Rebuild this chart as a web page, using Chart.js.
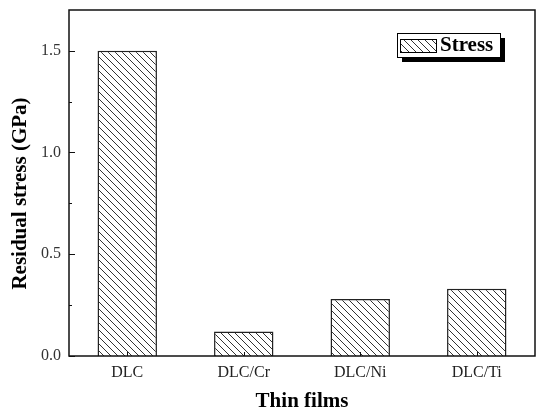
<!DOCTYPE html>
<html>
<head>
<meta charset="utf-8">
<script src="https://cdn.jsdelivr.net/npm/chart.js@4.4.1/dist/chart.umd.min.js"></script>
<style>
  html, body { margin: 0; padding: 0; background: #fff; }
  #wrap { width: 536px; height: 411px; }
</style>
</head>
<body>
<div id="wrap"><canvas id="chart"></canvas></div>
<script>
// data
const films = ["DLC", "DLC/Cr", "DLC/Ni", "DLC/Ti"];
const stress = [1.50, 0.12, 0.28, 0.33];
const yTicks = [0, 0.25, 0.5, 0.75, 1.0, 1.25, 1.5];
const yMajor = [0, 0.5, 1.0, 1.5];

const serif = "'Liberation Serif', 'DejaVu Serif', serif";

// diagonal hatch fill, "\\\\" direction
function hatch() {
    const c = document.createElement('canvas');
    c.width = 7; c.height = 7;
    const g = c.getContext('2d');
    g.fillStyle = '#fff';
    g.fillRect(0, 0, 7, 7);
    g.strokeStyle = '#333';
    g.lineWidth = 1;
    g.beginPath();
    g.moveTo(-1, -1); g.lineTo(8, 8);
    g.moveTo(-1, 6); g.lineTo(1, 8);
    g.moveTo(6, -1); g.lineTo(8, 1);
    g.stroke();
    return g.createPattern(c, 'repeat');
}
const fill = hatch();

// frame + inward ticks
const frame = {
    id: 'frame',
    afterDatasetsDraw(chart) {
        const { ctx, chartArea: a, scales } = chart;
        ctx.save();
        ctx.strokeStyle = '#111';
        ctx.lineWidth = 1;
        ctx.beginPath();
        scales.y.ticks.forEach(t => {
            const y = Math.round(scales.y.getPixelForValue(t.value)) + 0.5;
            const len = yMajor.includes(t.value) ? 6 : 3;
            ctx.moveTo(a.left, y);
            ctx.lineTo(a.left + len, y);
        });
        films.forEach((f, i) => {
            const x = Math.round(scales.x.getPixelForValue(i)) + 0.5;
            ctx.moveTo(x, a.bottom);
            ctx.lineTo(x, a.bottom - 4);
        });
        ctx.stroke();
        ctx.lineWidth = 1.5;
        ctx.strokeRect(a.left, a.top, a.right - a.left, a.bottom - a.top);
        ctx.restore();
    }
};

// legend box with drop shadow
const shadowLegend = {
    id: 'shadowLegend',
    afterDraw(chart) {
        const { ctx } = chart;
        const label = chart.data.datasets[0].label;
        const x = 397, y = 33, w = 103, h = 24;
        ctx.save();
        ctx.fillStyle = '#000';
        ctx.fillRect(x + 5, y + 5, w, h);
        ctx.fillStyle = '#fff';
        ctx.fillRect(x, y, w, h);
        ctx.strokeStyle = '#000';
        ctx.lineWidth = 1;
        ctx.strokeRect(x + 0.5, y + 0.5, w, h);
        ctx.fillStyle = fill;
        ctx.fillRect(x + 3, y + 6, 37, 14);
        ctx.strokeRect(x + 3.5, y + 6.5, 36, 13);
        ctx.fillStyle = '#000';
        ctx.font = "bold 21px " + serif;
        ctx.textBaseline = 'middle';
        ctx.fillText(label, x + 43, y + 13);
        ctx.restore();
    }
};

new Chart('chart', {
    type: 'bar',
    data: {
        labels: films,
        datasets: [{
            label: "Stress",
            data: stress,
            backgroundColor: fill,
            borderColor: "#222",
            borderWidth: 1.5,
            borderSkipped: 'bottom',
            barPercentage: 0.51,
            categoryPercentage: 1.0
        }]
    },
    options: {
        responsive: true,
        maintainAspectRatio: false,
        animation: false,
        layout: { padding: { top: 10, right: 1, left: 0, bottom: 0 } },
        plugins: {
            legend: { display: false },
            tooltip: { enabled: false }
        },
        scales: {
            x: {
                grid: { display: false, drawTicks: false },
                border: { display: false },
                afterFit: s => { s.height = 55; s.paddingLeft = 0; s.paddingRight = 0; },
                ticks: {
                    padding: 7,
                    color: '#222',
                    font: { family: serif, size: 16 }
                },
                title: {
                    display: true,
                    text: "Thin films",
                    color: '#000',
                    padding: { top: 0, bottom: -3 },
                    font: { family: serif, size: 21, weight: 'bold' }
                }
            },
            y: {
                min: 0,
                max: 1.7,
                grid: { display: false, drawTicks: false },
                border: { display: false },
                afterFit: s => { s.width = 69; s.paddingTop = 0; s.paddingBottom = 0; },
                afterBuildTicks: s => { s.ticks = yTicks.map(v => ({ value: v })); },
                ticks: {
                    padding: 8,
                    color: '#333',
                    font: { family: serif, size: 16 },
                    callback: v => yMajor.includes(v) ? v.toFixed(1) : ''
                },
                title: {
                    display: true,
                    text: "Residual stress (GPa)    ",
                    color: '#000',
                    padding: { top: 8, bottom: 0 },
                    font: { family: serif, size: 21, weight: 'bold' }
                }
            }
        }
    },
    plugins: [frame, shadowLegend]
});
</script>
</body>
</html>
